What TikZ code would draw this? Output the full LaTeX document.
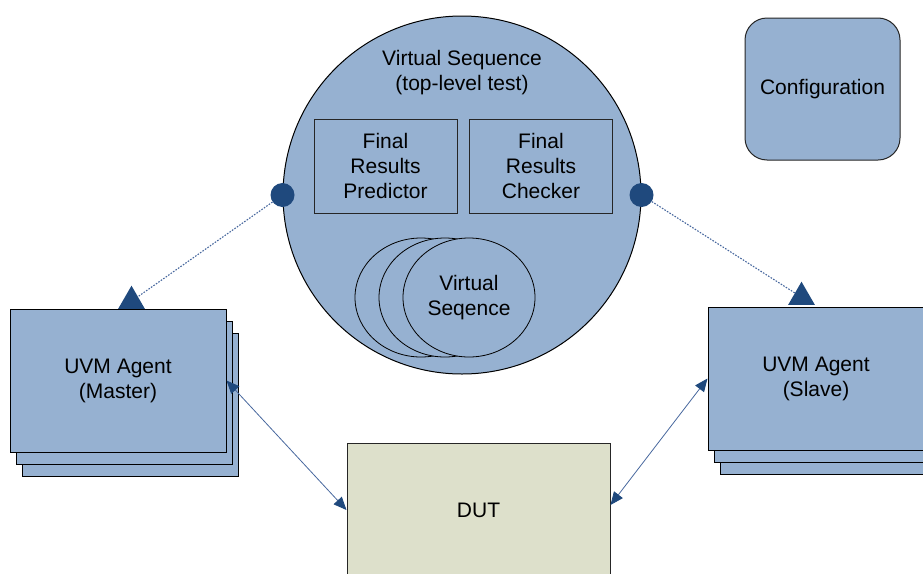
\documentclass[tikz,border=0pt]{standalone}
\usepackage{fontspec}
\setmainfont{Liberation Sans}
\usetikzlibrary{arrows.meta,positioning,shapes.geometric}
\definecolor{agentblue}{RGB}{150,177,209}
\definecolor{portblue}{RGB}{31,73,125}
\definecolor{linkblue}{RGB}{72,104,158}
\definecolor{dutgreen}{RGB}{221,224,203}
\tikzset{agentbox/.style={rectangle,draw=black,fill=agentblue,line width=1pt,minimum width=216pt,minimum height=143pt,inner sep=0pt,align=center},
  predbox/.style={rectangle,draw=black!85,fill=agentblue,line width=1pt,minimum width=143pt,minimum height=94pt,inner sep=0pt,align=center},
  seqball/.style={ellipse,draw=black,fill=agentblue,line width=0.8pt,minimum width=132pt,minimum height=119pt,inner sep=0pt,align=center},
  cfgbox/.style={rectangle,rounded corners=22pt,draw=black!85,fill=agentblue,line width=1pt,minimum width=155pt,minimum height=142pt},
  dutbox/.style={rectangle,draw=black!85,fill=dutgreen,line width=1pt,minimum width=263pt,minimum height=134pt},
  portdot/.style={circle,fill=portblue,minimum size=24pt,inner sep=0pt},
  pointer/.style={regular polygon,regular polygon sides=3,fill=portblue,minimum size=31pt,inner sep=0pt},
  probe/.style={draw=linkblue,line width=1.1pt,dash pattern=on 1.6pt off 1.4pt},
  wire/.style={draw=linkblue,line width=0.8pt,{Triangle[length=13pt,width=11pt,color=portblue]}-{Triangle[length=13pt,width=11pt,color=portblue]}}}

\begin{document}
\begin{tikzpicture}[x=1pt,y=-1pt,font=\fontsize{21}{25}\selectfont]

\useasboundingbox (0,0) rectangle (923,573);
\clip (0,0) rectangle (923,573);

% top-level test with its sequences
\node[circle,draw=black,fill=agentblue,line width=1pt,minimum size=358pt,inner sep=0pt] (seq) at (462,195) {};
\node[align=center] (title) at (462,72.5) {Virtual Sequence\\(top-level test)};
\node[predbox] (pred) at (385.5,166) {Final\\Results\\Predictor};
\node[predbox] (chk) at (541,166) {Final\\Results\\Checker};
\node[seqball] (vs1) at (421,297.5) {};
\node[seqball] (vs2) at (445,297.5) {};
\node[seqball] (vs3) at (469,297.5) {Virtual\\Seqence};

\node[cfgbox] (cfg) at (822.5,89) {Configuration};

% agents, drawn back to front
\node[agentbox] (mst3) at (130,404.5) {};
\node[agentbox] (mst2) at (124,392.5) {};
\node[agentbox] (mst1) at (118,380.5) {UVM Agent\\(Master)};

\node[agentbox] (slv3) at (828,402.5) {};
\node[agentbox] (slv2) at (822,390.5) {};
\node[agentbox] (slv1) at (816,378.5) {UVM Agent\\(Slave)};

\node[dutbox] (dut) at (478.5,510) {DUT};

% sequencer handles
\node[portdot] (portL) at (seq.west) {};
\node[portdot] (portR) at (seq.east) {};
\node[pointer] (ptrL) at (131.5,301.2) {};
\node[pointer] (ptrR) at (801.5,297.2) {};
\draw[probe] (portL) -- (ptrL);
\draw[probe] (portR) -- (ptrR);

% pin-level connections
\draw[wire] (mst1.east) -- (dut.west);
\draw[wire] (slv1.west) -- ([yshift=5pt]dut.east);

\end{tikzpicture}
\end{document}
